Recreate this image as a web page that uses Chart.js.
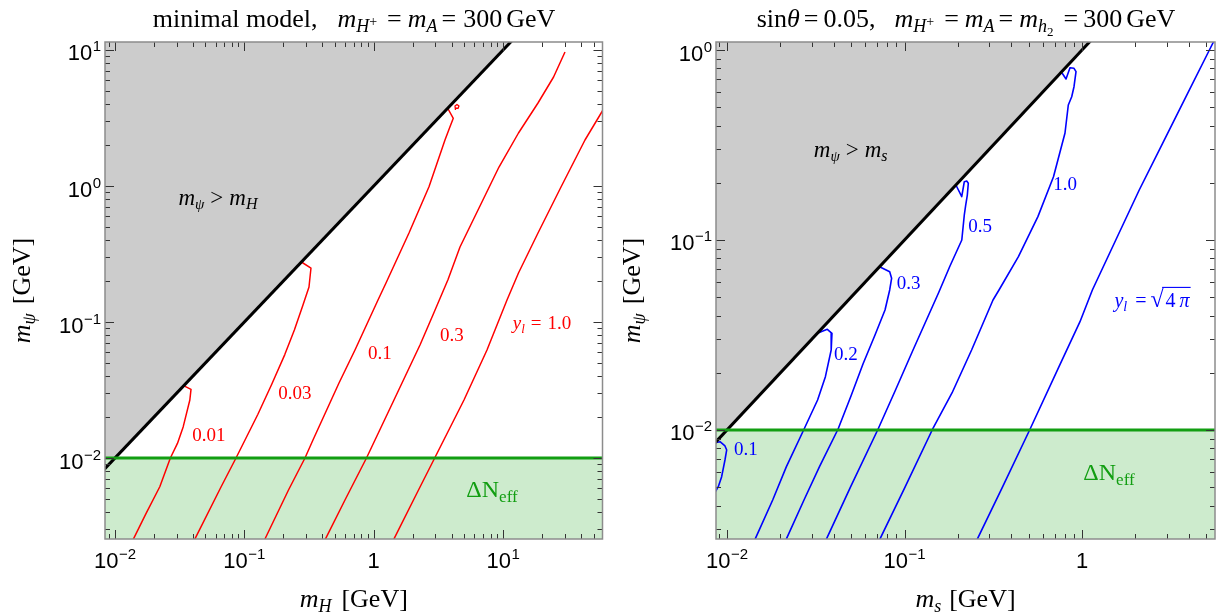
<!DOCTYPE html>
<html><head><meta charset="utf-8">
<script src="https://cdn.jsdelivr.net/npm/chart.js@4.4.1/dist/chart.umd.min.js"></script>
<style>
html,body{margin:0;padding:0;background:#fff;width:1219px;height:615px;overflow:hidden;}
canvas{position:absolute;top:0;}
#c1{left:0;} #c2{left:610px;}
</style></head><body>
<canvas id="c1" width="610" height="615"></canvas>
<canvas id="c2" width="609" height="615"></canvas>
<script>
// ---------------- DATA (GeV) ----------------
// axis ranges
const leftXRange  = [0.008373, 58.66];
const leftYRange  = [0.002538, 11.45];
const rightXRange = [0.00867, 5.614];
const rightYRange = [0.002668, 1.102];

// kinematic boundary m_psi = m and Delta N_eff bound
const diagonalMass = [0.001, 100];
const neffBound = 0.01;
const neffSpan = [0.001, 100];

// left panel: minimal model, contours of y_l in (m_H, m_psi)
const left_y001_mH   = [0.0345, 0.0387, 0.0379, 0.0337, 0.0304, 0.0268, 0.0222, 0.0174, 0.0139, 0.0134];
const left_y001_mPsi = [0.0338, 0.0320, 0.0267, 0.0170, 0.0128, 0.0100, 0.00615, 0.00392, 0.00254, 0.00235];
const left_y003_mH   = [0.2762, 0.3273, 0.3160, 0.2839, 0.2436, 0.2054, 0.1625, 0.1270, 0.1044, 0.0862, 0.0660, 0.0415, 0.0395];
const left_y003_mPsi = [0.2762, 0.2494, 0.1808, 0.1334, 0.0874, 0.0576, 0.0347, 0.0209, 0.0144, 0.0100, 0.00612, 0.00254, 0.0023];
const left_y01_mH    = [3.73, 4.121, 3.886, 3.554, 2.674, 1.873, 1.244, 1.079, 0.7165, 0.5390, 0.3392, 0.2942, 0.2194, 0.1443, 0.137];
const left_y01_mPsi  = [3.73, 3.147, 2.729, 2.179, 0.988, 0.4512, 0.1935, 0.1451, 0.0622, 0.0356, 0.01356, 0.0100, 0.00582, 0.00254, 0.0023];
const left_y01_loop_mH   = [4.285, 4.247, 4.401, 4.560, 4.480, 4.285];
const left_y01_loop_mPsi = [3.622, 3.875, 3.975, 3.875, 3.715, 3.746];
const left_y03_mH    = [30.09, 24.56, 18.61, 13.15, 9.294, 6.569, 4.643, 3.747, 2.918, 2.283, 1.434, 0.879, 0.5996, 0.4238, 0.405];
const left_y03_mPsi  = [9.667, 6.330, 4.076, 2.453, 1.379, 0.701, 0.3559, 0.2047, 0.1170, 0.0680, 0.0267, 0.0100, 0.00491, 0.00254, 0.0023];
const left_y10_mH    = [73.25, 59.17, 42.95, 28.03, 18.61, 13.15, 10.72, 7.508, 4.985, 2.960, 2.160, 1.434, 1.37];
const left_y10_mPsi  = [5.08, 3.622, 2.179, 0.9831, 0.4512, 0.2293, 0.1451, 0.0622, 0.0267, 0.0100, 0.00553, 0.00254, 0.0023];

// right panel: sin(theta)=0.05, contours of y_l in (m_s, m_psi)
const right_y01_ms    = [0.00867, 0.00913, 0.00974, 0.00996, 0.00974, 0.00933, 0.00893, 0.00845];
const right_y01_mPsi  = [0.00859, 0.00868, 0.00824, 0.00785, 0.00695, 0.00568, 0.00503, 0.0046];
const right_y02_ms    = [0.03228, 0.03674, 0.03903, 0.03863, 0.03584, 0.03239, 0.02715, 0.02161, 0.01809, 0.01442, 0.0138];
const right_y02_mPsi  = [0.03228, 0.03388, 0.03228, 0.02637, 0.01908, 0.01438, 0.01009, 0.00641, 0.00428, 0.00267, 0.0025];
const right_y03_ms    = [0.07236, 0.08253, 0.08459, 0.08253, 0.07766, 0.06821, 0.05836, 0.04995, 0.04220, 0.03320, 0.02715, 0.02161, 0.0207];
const right_y03_mPsi  = [0.07236, 0.06810, 0.06285, 0.05456, 0.04281, 0.03162, 0.02225, 0.01510, 0.01009, 0.00641, 0.00428, 0.00267, 0.0025];
const right_y05_ms    = [0.1948, 0.2101, 0.2172, 0.2241, 0.2288, 0.2259, 0.2212, 0.2172, 0.2103, 0.1804, 0.1554, 0.1117, 0.08899, 0.07091, 0.04975, 0.03636, 0.0350];
const right_y05_mPsi  = [0.1948, 0.1690, 0.2026, 0.2044, 0.1988, 0.1725, 0.1528, 0.1354, 0.1000, 0.07297, 0.05261, 0.02637, 0.01624, 0.01009, 0.00503, 0.00267, 0.0025];
const right_y10_ms    = [0.7716, 0.8127, 0.8558, 0.9013, 0.9252, 0.9013, 0.8750, 0.8372, 0.8021, 0.6909, 0.5644, 0.4383, 0.3407, 0.3152, 0.2388, 0.1852, 0.1439, 0.1010, 0.07278, 0.0700];
const right_y10_mPsi  = [0.7567, 0.7035, 0.8069, 0.8011, 0.7688, 0.6410, 0.5677, 0.5134, 0.3658, 0.2154, 0.1327, 0.0817, 0.05456, 0.04832, 0.02637, 0.01566, 0.01009, 0.00503, 0.00267, 0.0025];
const right_y4pi_ms   = [5.991, 5.220, 3.854, 2.845, 2.101, 1.550, 1.144, 0.9743, 0.7420, 0.5093, 0.3574, 0.2575, 0.245];
const right_y4pi_mPsi = [1.290, 1.000, 0.5677, 0.3228, 0.1833, 0.1000, 0.05456, 0.03715, 0.02154, 0.01009, 0.00503, 0.00267, 0.0025];

// contour labels (anchor = baseline centre, in GeV)
const leftLabelText = ['0.01', '0.03', '0.1', '0.3'];
const leftLabelMH   = [0.0533, 0.2461, 1.118, 4.027];
const leftLabelMPsi = [0.01327, 0.02701, 0.05318, 0.07211];
const leftYl1Anchor = [19.98, 0.08836];
const leftRegionAnchor = [0.0625, 0.7248];
const leftNeffAnchor = [8.207, 0.00519];

const rightLabelText = ['0.1', '0.2', '0.3', '0.5', '1.0'];
const rightLabelMs   = [0.01279, 0.0468, 0.1054, 0.2663, 0.8021];
const rightLabelMPsi = [0.007358, 0.02327, 0.05501, 0.1098, 0.1826];
const rightSqrtAnchor = [2.480, 0.04455];
const rightRegionAnchor = [0.04975, 0.2745];
const rightNeffAnchor = [1.419, 0.005455];

// tick labels
const leftXTickValues  = [0.01, 0.1, 1, 10];
const leftXTickLabels  = ['10^−2', '10^−1', '1', '10^1'];
const leftYTickValues  = [0.01, 0.1, 1, 10];
const leftYTickLabels  = ['10^−2', '10^−1', '10^0', '10^1'];
const rightXTickValues = [0.01, 0.1, 1];
const rightXTickLabels = ['10^−2', '10^−1', '1'];
const rightYTickValues = [0.01, 0.1, 1];
const rightYTickLabels = ['10^−2', '10^−1', '10^0'];

// ---------------- RENDERING ----------------
const SERIF = '"Liberation Serif", "Times New Roman", serif';
const SANS = '"Liberation Sans", Arial, sans-serif';
const RED = '#ff0000', BLUE = '#0000ff', GREEN = '#129e12', GREEN_FILL = '#cdebcd', GRAY_FILL = '#cccccc';

const zip = (xs, ys) => xs.map((x, i) => ({x: x, y: ys[i]}));

function fontOf(p) { return (p.italic ? 'italic ' : '') + (p.size || 26) + 'px ' + (p.family || SERIF); }
function richWidth(ctx, parts) {
  let w = 0;
  for (const p of parts) { ctx.font = fontOf(p); w += (p.gap || 0) + ctx.measureText(p.t).width; }
  return w;
}
function drawRich(ctx, parts, x, y, align, color) {
  const total = richWidth(ctx, parts);
  let cx = align === 'center' ? x - total / 2 : (align === 'right' ? x - total : x);
  ctx.fillStyle = color; ctx.textBaseline = 'alphabetic'; ctx.textAlign = 'left';
  let oS = null, oE = null, oY = null;
  for (const p of parts) {
    ctx.font = fontOf(p);
    cx += p.gap || 0;
    const m = ctx.measureText(p.t);
    ctx.fillText(p.t, cx, y + (p.dy || 0));
    if (p.radical) { oY = y - m.actualBoundingBoxAscent + 0.7; oS = cx + m.width - 1.5; }
    if (p.over) oE = cx + m.width + 1;
    cx += m.width;
  }
  if (oS !== null && oE !== null) {
    ctx.strokeStyle = color; ctx.lineWidth = 1.1;
    ctx.beginPath(); ctx.moveTo(oS, oY); ctx.lineTo(oE, oY); ctx.stroke();
  }
}
function tickParts(lbl) {
  const s = lbl.split('^');
  const parts = [{t: s[0], size: 22, family: SANS}];
  if (s.length > 1) parts.push({t: s[1], size: 15, family: SANS, dy: -9, gap: 0.5});
  return parts;
}

function makeAxesPlugin(cfg) {
  return {
    id: 'mmaAxes',
    afterDatasetsDraw(chart) {
      const ctx = chart.ctx, a = chart.chartArea, xs = chart.scales.x, ys = chart.scales.y;
      ctx.save();
      ctx.strokeStyle = '#333333'; ctx.lineWidth = 1;
      ctx.beginPath();
      for (let d = -4; d <= 3; d++) for (let m = 1; m <= 9; m++) {
        const v = m * Math.pow(10, d), len = m === 1 ? 9 : 5;
        if (v >= xs.min && v <= xs.max) {
          const p = Math.round(xs.getPixelForValue(v)) + 0.5;
          ctx.moveTo(p, a.bottom); ctx.lineTo(p, a.bottom - len);
          ctx.moveTo(p, a.top); ctx.lineTo(p, a.top + len);
        }
        if (v >= ys.min && v <= ys.max) {
          const p = Math.round(ys.getPixelForValue(v)) + 0.5;
          ctx.moveTo(a.left, p); ctx.lineTo(a.left + len, p);
          ctx.moveTo(a.right, p); ctx.lineTo(a.right - len, p);
        }
      }
      ctx.stroke();
      ctx.strokeStyle = '#8c8c8c'; ctx.lineWidth = 1.5;
      ctx.strokeRect(a.left, a.top, a.right - a.left, a.bottom - a.top);
      ctx.restore();
    },
    afterDraw(chart) {
      const ctx = chart.ctx, a = chart.chartArea, xs = chart.scales.x, ys = chart.scales.y;
      ctx.save();
      cfg.xTicks.forEach((v, i) => drawRich(ctx, tickParts(cfg.xTickLabels[i]), xs.getPixelForValue(v), a.bottom + 29, 'center', '#000'));
      cfg.yTicks.forEach((v, i) => drawRich(ctx, tickParts(cfg.yTickLabels[i]), a.left - 4, ys.getPixelForValue(v) + 10.5, 'right', '#000'));
      drawRich(ctx, cfg.title, cfg.titleX, 27, 'center', '#000');
      drawRich(ctx, cfg.xTitle, (a.left + a.right) / 2, 607, 'center', '#000');
      ctx.save();
      ctx.translate(cfg.yTitleX, (a.top + a.bottom) / 2);
      ctx.rotate(-Math.PI / 2);
      drawRich(ctx, cfg.yTitle, 0, 0, 'center', '#000');
      ctx.restore();
      cfg.labels.forEach(L => drawRich(ctx, L.parts, xs.getPixelForValue(L.x), ys.getPixelForValue(L.y), 'center', L.color));
      ctx.restore();
    }
  };
}

function buildChart(id, cfg) {
  const curveSets = cfg.curves.map(c => ({
    data: zip(c.x, c.y), showLine: true, fill: false, borderColor: c.color, borderWidth: c.width || 1.5,
    pointRadius: 0, tension: 0, order: 3, clip: 0, borderJoinStyle: 'round'
  }));
  const datasets = [
    {data: zip(diagonalMass, diagonalMass), showLine: true, fill: 'end', backgroundColor: GRAY_FILL, borderWidth: 0, pointRadius: 0, order: 6, clip: 0},
    {data: zip(neffSpan, [neffBound, neffBound]), showLine: true, fill: 'start', backgroundColor: GREEN_FILL, borderWidth: 0, pointRadius: 0, order: 5, clip: 0},
    ...curveSets,
    {data: zip(diagonalMass, diagonalMass), showLine: true, fill: false, borderColor: '#000', borderWidth: 3, pointRadius: 0, order: 2, clip: 0},
    {data: zip(neffSpan, [neffBound, neffBound]), showLine: true, fill: false, borderColor: GREEN, borderWidth: 3, pointRadius: 0, order: 1, clip: 0}
  ];
  return new Chart(document.getElementById(id), {
    type: 'scatter',
    data: {datasets},
    options: {
      responsive: false, animation: false, events: [],
      layout: {padding: cfg.padding},
      scales: {
        x: {type: 'logarithmic', min: cfg.xRange[0], max: cfg.xRange[1], display: false},
        y: {type: 'logarithmic', min: cfg.yRange[0], max: cfg.yRange[1], display: false}
      },
      plugins: {legend: {display: false}, tooltip: {enabled: false}, title: {display: false}}
    },
    plugins: [makeAxesPlugin(cfg)]
  });
}

const num = (t, color) => ({parts: [{t: t, size: 19}], color});

// LEFT PANEL
buildChart('c1', {
  xRange: leftXRange, yRange: leftYRange,
  padding: {left: 105, right: 7.5, top: 42, bottom: 76},
  curves: [
    {x: left_y001_mH, y: left_y001_mPsi, color: RED},
    {x: left_y003_mH, y: left_y003_mPsi, color: RED},
    {x: left_y01_mH, y: left_y01_mPsi, color: RED},
    {x: left_y01_loop_mH, y: left_y01_loop_mPsi, color: RED, width: 1.3},
    {x: left_y03_mH, y: left_y03_mPsi, color: RED},
    {x: left_y10_mH, y: left_y10_mPsi, color: RED}
  ],
  xTicks: leftXTickValues, xTickLabels: leftXTickLabels,
  yTicks: leftYTickValues, yTickLabels: leftYTickLabels,
  titleX: 354,
  title: [
    {t: 'minimal model,'}, {t: 'm', italic: true, gap: 20}, {t: 'H', size: 18, italic: true, dy: 5},
    {t: '+', size: 14, dy: -1}, {t: '=', gap: 10}, {t: 'm', italic: true, gap: 6},
    {t: 'A', size: 18, italic: true, dy: 5}, {t: '=', gap: 4}, {t: '300', gap: 7}, {t: 'GeV', gap: 4}
  ],
  xTitle: [{t: 'm', italic: true}, {t: 'H', size: 18, italic: true, dy: 5}, {t: '[GeV]', gap: 10}],
  yTitle: [{t: 'm', italic: true}, {t: 'ψ', size: 18, italic: true, dy: 5}, {t: '[GeV]', gap: 9}],
  yTitleX: 30,
  labels: [
    ...leftLabelText.map((t, i) => Object.assign(num(t, RED), {x: leftLabelMH[i], y: leftLabelMPsi[i]})),
    {x: leftYl1Anchor[0], y: leftYl1Anchor[1], color: RED, parts: [
      {t: 'y', size: 19, italic: true}, {t: 'l', size: 13, italic: true, dy: 4}, {t: '=', size: 19, gap: 6}, {t: '1.0', size: 19, gap: 6}]},
    {x: leftRegionAnchor[0], y: leftRegionAnchor[1], color: '#000', parts: [
      {t: 'm', size: 23, italic: true}, {t: 'ψ', size: 15, italic: true, dy: 4}, {t: '>', size: 23, gap: 6},
      {t: 'm', size: 23, italic: true, gap: 6}, {t: 'H', size: 16, italic: true, dy: 4}]},
    {x: leftNeffAnchor[0], y: leftNeffAnchor[1], color: GREEN, parts: [{t: 'ΔN', size: 24}, {t: 'eff', size: 17, dy: 5}]}
  ]
});

// RIGHT PANEL
buildChart('c2', {
  xRange: rightXRange, yRange: rightYRange,
  padding: {left: 106, right: 4, top: 42, bottom: 76},
  curves: [
    {x: right_y01_ms, y: right_y01_mPsi, color: BLUE, width: 1.6},
    {x: right_y02_ms, y: right_y02_mPsi, color: BLUE, width: 1.6},
    {x: right_y03_ms, y: right_y03_mPsi, color: BLUE, width: 1.6},
    {x: right_y05_ms, y: right_y05_mPsi, color: BLUE, width: 1.6},
    {x: right_y10_ms, y: right_y10_mPsi, color: BLUE, width: 1.6},
    {x: right_y4pi_ms, y: right_y4pi_mPsi, color: BLUE, width: 1.6}
  ],
  xTicks: rightXTickValues, xTickLabels: rightXTickLabels,
  yTicks: rightYTickValues, yTickLabels: rightYTickLabels,
  titleX: 356,
  title: [
    {t: 'sin'}, {t: 'θ', italic: true}, {t: '=', gap: 4}, {t: '0.05,', gap: 5},
    {t: 'm', italic: true, gap: 19}, {t: 'H', size: 18, italic: true, dy: 5}, {t: '+', size: 14, dy: -1},
    {t: '=', gap: 10}, {t: 'm', italic: true, gap: 6}, {t: 'A', size: 18, italic: true, dy: 5},
    {t: '=', gap: 4}, {t: 'm', italic: true, gap: 6}, {t: 'h', size: 18, italic: true, dy: 5}, {t: '2', size: 13, dy: 9},
    {t: '=', gap: 10}, {t: '300', gap: 5}, {t: 'GeV', gap: 4}
  ],
  xTitle: [{t: 'm', italic: true}, {t: 's', size: 18, italic: true, dy: 5}, {t: '[GeV]', gap: 8}],
  yTitle: [{t: 'm', italic: true}, {t: 'ψ', size: 18, italic: true, dy: 5}, {t: '[GeV]', gap: 9}],
  yTitleX: 30,
  labels: [
    ...rightLabelText.map((t, i) => Object.assign(num(t, BLUE), {x: rightLabelMs[i], y: rightLabelMPsi[i]})),
    {x: rightSqrtAnchor[0], y: rightSqrtAnchor[1], color: BLUE, parts: [
      {t: 'y', size: 20, italic: true}, {t: 'l', size: 14, italic: true, dy: 4}, {t: '=', size: 20, gap: 8},
      {t: '√', size: 24, gap: 4, radical: true}, {t: '4', size: 20, gap: 2, over: true}, {t: 'π', size: 20, italic: true, gap: 4, over: true}]},
    {x: rightRegionAnchor[0], y: rightRegionAnchor[1], color: '#000', parts: [
      {t: 'm', size: 23, italic: true}, {t: 'ψ', size: 15, italic: true, dy: 4}, {t: '>', size: 23, gap: 6},
      {t: 'm', size: 23, italic: true, gap: 6}, {t: 's', size: 16, italic: true, dy: 4}]},
    {x: rightNeffAnchor[0], y: rightNeffAnchor[1], color: GREEN, parts: [{t: 'ΔN', size: 24}, {t: 'eff', size: 17, dy: 5}]}
  ]
});
</script>
</body></html>
